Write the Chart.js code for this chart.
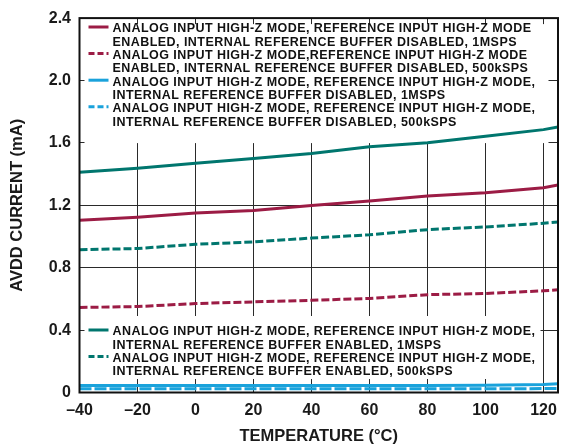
<!DOCTYPE html>
<html>
<head>
<meta charset="utf-8">
<script src="https://cdn.jsdelivr.net/npm/chart.js@4"></script>
<style>
html,body{margin:0;padding:0;background:#fff;}
#wrap{width:580px;height:446px;position:relative;}
</style>
</head>
<body>
<div id="wrap"><canvas id="c" width="580" height="446"></canvas></div>
<script>
// ---- data ----
const temps = [-40, -20, 0, 20, 40, 60, 80, 100, 120, 125];
const refDis1M   = [1.104, 1.124, 1.150, 1.167, 1.198, 1.227, 1.259, 1.280, 1.313, 1.330];
const refDis500k = [0.545, 0.551, 0.570, 0.581, 0.591, 0.603, 0.627, 0.635, 0.652, 0.658];
const bufDis1M   = [0.045, 0.045, 0.045, 0.045, 0.045, 0.045, 0.045, 0.046, 0.052, 0.056];
const bufDis500k = [0.024, 0.024, 0.024, 0.024, 0.024, 0.024, 0.024, 0.024, 0.025, 0.026];
const bufEn1M    = [1.412, 1.437, 1.469, 1.500, 1.532, 1.576, 1.601, 1.643, 1.685, 1.702];
const bufEn500k  = [0.915, 0.923, 0.950, 0.965, 0.990, 1.011, 1.044, 1.061, 1.085, 1.093];
const xTicks = [-40, -20, 0, 20, 40, 60, 80, 100, 120];
const yTicks = [0, 0.4, 0.8, 1.2, 1.6, 2.0, 2.4];

const labels = [
  ['ANALOG INPUT HIGH-Z MODE, REFERENCE INPUT HIGH-Z MODE', 'ENABLED, INTERNAL REFERENCE BUFFER DISABLED, 1MSPS'],
  ['ANALOG INPUT HIGH-Z MODE,REFERENCE INPUT HIGH-Z MODE', 'ENABLED, INTERNAL REFERENCE BUFFER DISABLED, 500kSPS'],
  ['ANALOG INPUT HIGH-Z MODE, REFERENCE INPUT HIGH-Z MODE,', 'INTERNAL REFERENCE BUFFER DISABLED, 1MSPS'],
  ['ANALOG INPUT HIGH-Z MODE, REFERENCE INPUT HIGH-Z MODE,', 'INTERNAL REFERENCE BUFFER DISABLED, 500kSPS'],
  ['ANALOG INPUT HIGH-Z MODE, REFERENCE INPUT HIGH-Z MODE,', 'INTERNAL REFERENCE BUFFER ENABLED, 1MSPS'],
  ['ANALOG INPUT HIGH-Z MODE, REFERENCE INPUT HIGH-Z MODE,', 'INTERNAL REFERENCE BUFFER ENABLED, 500kSPS']
];

const MAROON = '#9C1C45';
const TEAL = '#00766E';
const BLUE = '#1AA2DB';

function pts(ys){ return temps.map((t,i)=>({x:t, y:ys[i]})); }

const datasets = [
  {label: labels[0].join(' '), data: pts(refDis1M), borderColor: MAROON, borderDash: []},
  {label: labels[1].join(' '), data: pts(refDis500k), borderColor: MAROON, borderDash: [8,3]},
  {label: labels[2].join(' '), data: pts(bufDis1M), borderColor: BLUE, borderDash: []},
  {label: labels[3].join(' '), data: pts(bufDis500k), borderColor: BLUE, borderDash: [12,3]},
  {label: labels[4].join(' '), data: pts(bufEn1M), borderColor: TEAL, borderDash: []},
  {label: labels[5].join(' '), data: pts(bufEn500k), borderColor: TEAL, borderDash: [8,3]}
].map(d => Object.assign(d, {borderWidth: 3, pointRadius: 0, tension: 0, fill: false}));

const FONT = '"Liberation Sans", Arial, sans-serif';

const legendPlugin = {
  id: 'customLegend',
  beforeDatasetsDraw(chart) {
    const ctx = chart.ctx;
    const xs = chart.scales.x, ys = chart.scales.y;
    ctx.save();
    ctx.fillStyle = '#fff';
    ctx.fillRect(xs.left + 5, ys.top + 6, 464, 119);
    ctx.fillRect(xs.left + 5, 316, 456, 63);
    const drawGroup = (idxs, y0) => {
      let y = y0;
      ctx.font = 'bold 12.5px ' + FONT;
      if ('letterSpacing' in ctx) ctx.letterSpacing = '0.45px';
      ctx.textBaseline = 'middle';
      idxs.forEach(i => {
        const ds = chart.data.datasets[i];
        ctx.strokeStyle = ds.borderColor;
        ctx.lineWidth = 3;
        ctx.setLineDash(ds.borderDash.length ? [6,3] : []);
        ctx.beginPath();
        ctx.moveTo(xs.left + 9, y - 1);
        ctx.lineTo(xs.left + 29, y - 1);
        ctx.stroke();
        ctx.setLineDash([]);
        ctx.fillStyle = '#111';
        labels[i].forEach((ln, k) => {
          ctx.fillText(ln, xs.left + 33, y + 1 + k * 13.3);
        });
        y += 26.6;
      });
    };
    drawGroup([0,1,2,3], 28);
    drawGroup([4,5], 331);
    ctx.restore();
  },
  afterDraw(chart) {
    const ctx = chart.ctx;
    const a = chart.chartArea;
    ctx.save();
    ctx.strokeStyle = '#111';
    ctx.lineWidth = 2;
    ctx.strokeRect(a.left, a.top, a.right - a.left, a.bottom - a.top);
    ctx.restore();
  }
};

new Chart(document.getElementById('c'), {
  type: 'line',
  data: {datasets},
  options: {
    responsive: false,
    animation: false,
    devicePixelRatio: 1,
    layout: {padding: {top: 10, right: 22, left: 0, bottom: 0}},
    plugins: {legend: {display: false}, tooltip: {enabled: false}},
    scales: {
      x: {
        type: 'linear', min: -40, max: 125,
        afterBuildTicks: s => { s.ticks = xTicks.map(v => ({value: v})); },
        afterFit: s => { s.height = 53.5; },
        grid: {color: '#2a2a2a', lineWidth: 1, drawTicks: false},
        border: {display: false},
        ticks: {
          padding: 8, color: '#1a1a1a', maxRotation: 0,
          font: {family: FONT, size: 16, weight: 'bold'},
          callback: v => String(v).replace('-', '\u2013')
        },
        title: {display: true, text: 'TEMPERATURE (°C)', color: '#1a1a1a',
          font: {family: FONT, size: 16.5, weight: 'bold'}, padding: {top: 0, bottom: 0}}
      },
      y: {
        type: 'linear', min: 0, max: 2.4,
        afterBuildTicks: s => { s.ticks = yTicks.map(v => ({value: v})); },
        afterFit: s => { s.width = 79.5; },
        grid: {color: '#2a2a2a', lineWidth: 1, drawTicks: false},
        border: {display: false},
        ticks: {
          padding: 8.5, color: '#1a1a1a',
          font: {family: FONT, size: 16, weight: 'bold'},
          callback: v => (v === 0 ? '0' : v.toFixed(1))
        },
        title: {display: true, text: 'AVDD CURRENT (mA)', color: '#1a1a1a',
          font: {family: FONT, size: 16.5, weight: 'bold'}, padding: {top: 7.5, bottom: 0}}
      }
    }
  },
  plugins: [legendPlugin]
});
</script>
</body>
</html>
